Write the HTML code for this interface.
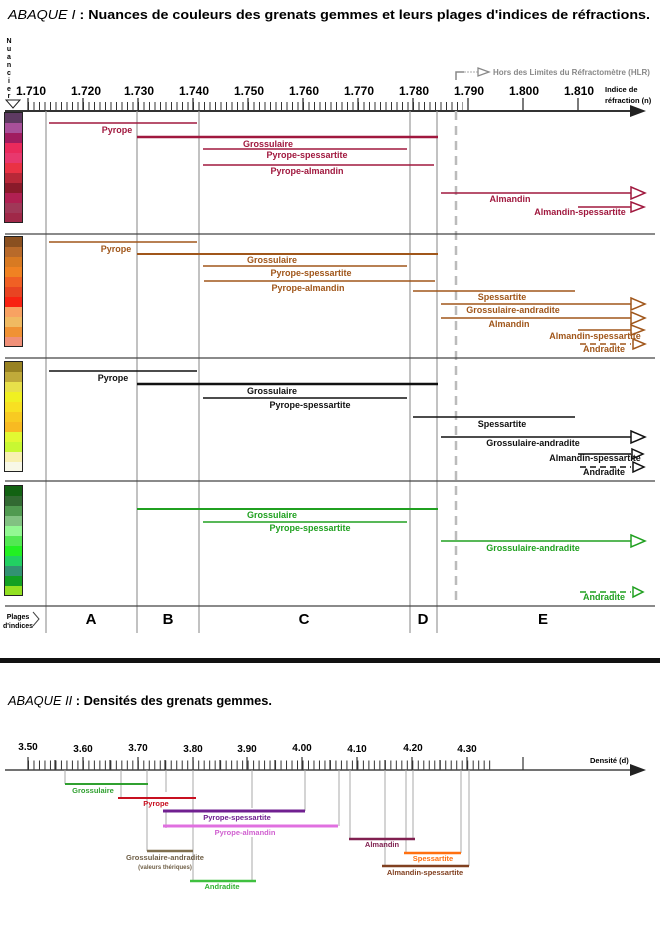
<!DOCTYPE html>
<html><head><meta charset="utf-8"><style>
html,body{margin:0;padding:0;background:#fff;}
svg{display:block;font-family:"Liberation Sans","DejaVu Sans",sans-serif;}
.l{font-size:9px;font-weight:bold;}
.t{font-size:12px;font-weight:bold;}
</style></head><body>
<svg width="660" height="932" viewBox="0 0 660 932" xmlns="http://www.w3.org/2000/svg">
<text x="8" y="19" font-size="13" font-weight="bold" textLength="642" lengthAdjust="spacingAndGlyphs"><tspan font-style="italic" font-weight="normal">ABAQUE I</tspan> : Nuances de couleurs des grenats gemmes et leurs plages d'indices de réfractions.</text>
<g font-size="7" font-weight="bold" text-anchor="middle">
<text x="9" y="43">N</text><text x="9" y="51">u</text><text x="9" y="59">a</text><text x="9" y="67">n</text><text x="9" y="75">c</text><text x="9" y="83">i</text><text x="9" y="91">e</text><text x="9" y="98">r</text></g>
<path d="M6,100 L20,100 L13,108 Z" fill="#fff" stroke="#222" stroke-width="1"/>
<line x1="5" y1="111" x2="632" y2="111" stroke="#333" stroke-width="2"/>
<path d="M630,105 L646,111 L630,117 Z" fill="#222"/>
<line x1="28" y1="106.5" x2="463" y2="106.5" stroke="#333" stroke-width="9" stroke-dasharray="1 4.5"/>
<g stroke="#333" stroke-width="1.3">
<line x1="28" y1="98" x2="28" y2="111"/><line x1="83" y1="98" x2="83" y2="111"/><line x1="138" y1="98" x2="138" y2="111"/><line x1="193" y1="98" x2="193" y2="111"/><line x1="248" y1="98" x2="248" y2="111"/><line x1="303" y1="98" x2="303" y2="111"/><line x1="358" y1="98" x2="358" y2="111"/><line x1="413" y1="98" x2="413" y2="111"/><line x1="468" y1="98" x2="468" y2="111"/><line x1="523" y1="98" x2="523" y2="111"/><line x1="578" y1="98" x2="578" y2="111"/></g>
<g class="t" text-anchor="middle">
<text x="31" y="95">1.710</text><text x="86" y="95">1.720</text><text x="139" y="95">1.730</text><text x="194" y="95">1.740</text><text x="249" y="95">1.750</text><text x="304" y="95">1.760</text><text x="359" y="95">1.770</text><text x="414" y="95">1.780</text><text x="469" y="95">1.790</text><text x="524" y="95">1.800</text><text x="579" y="95">1.810</text></g>
<text x="605" y="92" font-size="7.5" font-weight="bold">Indice de</text>
<text x="605" y="103" font-size="7.5" font-weight="bold">réfraction (n)</text>
<path d="M456,80 L456,72 L464,72" fill="none" stroke="#888" stroke-width="1.5"/>
<line x1="464" y1="72" x2="478" y2="72" stroke="#aaa" stroke-width="1" stroke-dasharray="2 1"/>
<path d="M478,68 L489,72 L478,76 Z" fill="#fff" stroke="#888" stroke-width="1.3"/>
<text x="493" y="75" font-size="8" font-weight="bold" fill="#888">Hors des Limites du Réfractomètre (HLR)</text>
<g stroke="#999" stroke-width="1.2">
<line x1="46" y1="111" x2="46" y2="633"/><line x1="137" y1="111" x2="137" y2="633"/><line x1="199" y1="111" x2="199" y2="633"/><line x1="410" y1="111" x2="410" y2="633"/><line x1="437" y1="111" x2="437" y2="633"/></g>
<line x1="456" y1="111" x2="456" y2="606" stroke="#bbb" stroke-width="2.5" stroke-dasharray="9 6"/>
<g stroke="#444" stroke-width="1.2">
<line x1="5" y1="234" x2="655" y2="234"/><line x1="5" y1="358" x2="655" y2="358"/><line x1="5" y1="481" x2="655" y2="481"/><line x1="5" y1="606" x2="655" y2="606"/></g>
<g stroke="none">
<rect x="5" y="113" width="17" height="10" fill="#5e3a62"/><rect x="5" y="123" width="17" height="10" fill="#a8509a"/><rect x="5" y="133" width="17" height="10" fill="#a01c60"/><rect x="5" y="143" width="17" height="10" fill="#ea2a5c"/><rect x="5" y="153" width="17" height="10" fill="#e8386e"/><rect x="5" y="163" width="17" height="10" fill="#ea3244"/><rect x="5" y="173" width="17" height="10" fill="#b82838"/><rect x="5" y="183" width="17" height="10" fill="#8a1a2a"/><rect x="5" y="193" width="17" height="10" fill="#b02052"/><rect x="5" y="203" width="17" height="10" fill="#a03858"/><rect x="5" y="213" width="17" height="9" fill="#a02848"/>
<rect x="5" y="237" width="17" height="10" fill="#8a5020"/><rect x="5" y="247" width="17" height="10" fill="#b86a2a"/><rect x="5" y="257" width="17" height="10" fill="#d87a22"/><rect x="5" y="267" width="17" height="10" fill="#f08222"/><rect x="5" y="277" width="17" height="10" fill="#f06024"/><rect x="5" y="287" width="17" height="10" fill="#e84422"/><rect x="5" y="297" width="17" height="10" fill="#f82212"/><rect x="5" y="307" width="17" height="10" fill="#f8a262"/><rect x="5" y="317" width="17" height="10" fill="#f0ba62"/><rect x="5" y="327" width="17" height="10" fill="#f09234"/><rect x="5" y="337" width="17" height="9" fill="#f09078"/>
<rect x="5" y="362" width="17" height="10" fill="#988222"/><rect x="5" y="372" width="17" height="10" fill="#c0aa3a"/><rect x="5" y="382" width="17" height="10" fill="#e8e04a"/><rect x="5" y="392" width="17" height="10" fill="#f0f022"/><rect x="5" y="402" width="17" height="10" fill="#f8e022"/><rect x="5" y="412" width="17" height="10" fill="#f8ca22"/><rect x="5" y="422" width="17" height="10" fill="#f8ba22"/><rect x="5" y="432" width="17" height="10" fill="#e2f832"/><rect x="5" y="442" width="17" height="10" fill="#c8f832"/><rect x="5" y="452" width="17" height="10" fill="#f8f0b2"/><rect x="5" y="462" width="17" height="9" fill="#f8f8e8"/>
<rect x="5" y="486" width="17" height="10" fill="#126212"/><rect x="5" y="496" width="17" height="10" fill="#326a32"/><rect x="5" y="506" width="17" height="10" fill="#509a50"/><rect x="5" y="516" width="17" height="10" fill="#82c282"/><rect x="5" y="526" width="17" height="10" fill="#92f892"/><rect x="5" y="536" width="17" height="10" fill="#52e852"/><rect x="5" y="546" width="17" height="10" fill="#22f022"/><rect x="5" y="556" width="17" height="10" fill="#22d062"/><rect x="5" y="566" width="17" height="10" fill="#329272"/><rect x="5" y="576" width="17" height="10" fill="#12a022"/><rect x="5" y="586" width="17" height="9" fill="#92e022"/></g>
<g fill="none" stroke="#222" stroke-width="1"><rect x="4.5" y="112.5" width="18" height="110"/><rect x="4.5" y="236.5" width="18" height="110"/><rect x="4.5" y="361.5" width="18" height="110"/><rect x="4.5" y="485.5" width="18" height="110"/></g>

<g stroke="#a0183e" fill="#fff">
<line x1="49" y1="123" x2="197" y2="123" stroke-width="1.5"/>
<line x1="137" y1="137" x2="438" y2="137" stroke-width="2.5"/>
<line x1="203" y1="149" x2="407" y2="149" stroke-width="1.5"/>
<line x1="203" y1="165" x2="434" y2="165" stroke-width="1.5"/>
<line x1="441" y1="193" x2="631" y2="193" stroke-width="1.5"/>
<line x1="578" y1="207" x2="631" y2="207" stroke-width="1.5"/>
<path d="M631,187 L645,193 L631,199 Z" stroke-width="1.5"/>
<path d="M631,202 L644,207 L631,212 Z" stroke-width="1.5"/>
</g>
<g class="l" fill="#a0183e" text-anchor="middle">
<text x="117" y="133">Pyrope</text><text x="268" y="147">Grossulaire</text><text x="307" y="158">Pyrope-spessartite</text><text x="307" y="174">Pyrope-almandin</text><text x="510" y="202">Almandin</text><text x="580" y="215">Almandin-spessartite</text></g>

<g stroke="#a0561a" fill="#fff">
<line x1="49" y1="242" x2="197" y2="242" stroke-width="1.5"/>
<line x1="137" y1="254" x2="438" y2="254" stroke-width="2"/>
<line x1="203" y1="266" x2="407" y2="266" stroke-width="1.5"/>
<line x1="204" y1="281" x2="435" y2="281" stroke-width="1.5"/>
<line x1="413" y1="291" x2="575" y2="291" stroke-width="1.5"/>
<line x1="441" y1="304" x2="631" y2="304" stroke-width="1.5"/>
<line x1="441" y1="318" x2="631" y2="318" stroke-width="1.5"/>
<line x1="578" y1="330" x2="631" y2="330" stroke-width="1.5"/>
<line x1="580" y1="344" x2="631" y2="344" stroke-width="1.5" stroke-dasharray="6 4"/>
<path d="M631,298 L645,304 L631,310 Z" stroke-width="1.5"/>
<path d="M631,312 L645,318 L631,324 Z" stroke-width="1.5"/>
<path d="M631,325 L644,330 L631,335 Z" stroke-width="1.5"/>
<path d="M633,339 L645,344 L633,349 Z" stroke-width="1.5"/>
</g>
<g class="l" fill="#a0561a" text-anchor="middle">
<text x="116" y="252">Pyrope</text><text x="272" y="263">Grossulaire</text><text x="311" y="276">Pyrope-spessartite</text><text x="308" y="291">Pyrope-almandin</text><text x="502" y="300">Spessartite</text><text x="513" y="313">Grossulaire-andradite</text><text x="509" y="327">Almandin</text><text x="595" y="339">Almandin-spessartite</text><text x="604" y="352">Andradite</text></g>

<g stroke="#111" fill="#fff">
<line x1="49" y1="371" x2="197" y2="371" stroke-width="1.5"/>
<line x1="137" y1="384" x2="438" y2="384" stroke-width="2.5"/>
<line x1="203" y1="398" x2="407" y2="398" stroke-width="1.5"/>
<line x1="413" y1="417" x2="575" y2="417" stroke-width="1.5"/>
<line x1="441" y1="437" x2="631" y2="437" stroke-width="1.5"/>
<line x1="578" y1="454" x2="631" y2="454" stroke-width="1.5"/>
<line x1="580" y1="467" x2="631" y2="467" stroke-width="1.5" stroke-dasharray="6 4"/>
<path d="M631,431 L645,437 L631,443 Z" stroke-width="1.5"/>
<path d="M632,449 L643,454 L632,459 Z" stroke-width="1.5"/>
<path d="M633,462 L644,467 L633,472 Z" stroke-width="1.5"/>
</g>
<g class="l" fill="#111" text-anchor="middle">
<text x="113" y="381">Pyrope</text><text x="272" y="394">Grossulaire</text><text x="310" y="408">Pyrope-spessartite</text><text x="502" y="427">Spessartite</text><text x="533" y="446">Grossulaire-andradite</text><text x="595" y="461">Almandin-spessartite</text><text x="604" y="475">Andradite</text></g>

<g stroke="#20a020" fill="#fff">
<line x1="137" y1="509" x2="438" y2="509" stroke-width="2"/>
<line x1="203" y1="522" x2="407" y2="522" stroke-width="1.5"/>
<line x1="441" y1="541" x2="631" y2="541" stroke-width="1.5"/>
<line x1="580" y1="592" x2="631" y2="592" stroke-width="1.5" stroke-dasharray="6 4"/>
<path d="M631,535 L645,541 L631,547 Z" stroke-width="1.5"/>
<path d="M633,587 L643,592 L633,597 Z" stroke-width="1.5"/>
</g>
<g class="l" fill="#20a020" text-anchor="middle">
<text x="272" y="518">Grossulaire</text><text x="310" y="531">Pyrope-spessartite</text><text x="533" y="551">Grossulaire-andradite</text><text x="604" y="600">Andradite</text></g>

<text x="18" y="619" font-size="7" font-weight="bold" text-anchor="middle">Plages</text>
<text x="18" y="628" font-size="7" font-weight="bold" text-anchor="middle">d'indices</text>
<path d="M33,612 L39,619 L33,626" fill="#fff" stroke="#444" stroke-width="1"/>
<g font-size="15" font-weight="bold" text-anchor="middle">
<text x="91" y="624">A</text><text x="168" y="624">B</text><text x="304" y="624">C</text><text x="423" y="624">D</text><text x="543" y="624">E</text></g>

<rect x="0" y="658" width="660" height="5" fill="#111"/>

<text x="8" y="705" font-size="13" font-weight="bold" textLength="264" lengthAdjust="spacingAndGlyphs"><tspan font-style="italic" font-weight="normal">ABAQUE II</tspan> : Densités des grenats gemmes.</text>

<line x1="5" y1="770" x2="633" y2="770" stroke="#444" stroke-width="1.5"/>
<path d="M630,764 L646,770 L630,776 Z" fill="#222"/>
<line x1="28" y1="765" x2="491" y2="765" stroke="#333" stroke-width="9" stroke-dasharray="1 4.49"/>
<g stroke="#333" stroke-width="1.2">
<line x1="28" y1="757" x2="28" y2="770"/><line x1="83" y1="757" x2="83" y2="770"/><line x1="138" y1="757" x2="138" y2="770"/><line x1="193" y1="757" x2="193" y2="770"/><line x1="247" y1="757" x2="247" y2="770"/><line x1="302" y1="757" x2="302" y2="770"/><line x1="357" y1="757" x2="357" y2="770"/><line x1="412" y1="757" x2="412" y2="770"/><line x1="467" y1="757" x2="467" y2="770"/><line x1="523" y1="757" x2="523" y2="770"/>
<line x1="55" y1="760" x2="55" y2="770"/><line x1="110" y1="760" x2="110" y2="770"/><line x1="165" y1="760" x2="165" y2="770"/><line x1="220" y1="760" x2="220" y2="770"/><line x1="275" y1="760" x2="275" y2="770"/><line x1="330" y1="760" x2="330" y2="770"/><line x1="385" y1="760" x2="385" y2="770"/><line x1="440" y1="760" x2="440" y2="770"/></g>
<g font-size="10" font-weight="bold" text-anchor="middle">
<text x="28" y="750">3.50</text><text x="83" y="752">3.60</text><text x="138" y="751">3.70</text><text x="193" y="752">3.80</text><text x="247" y="752">3.90</text><text x="302" y="751">4.00</text><text x="357" y="752">4.10</text><text x="413" y="751">4.20</text><text x="467" y="752">4.30</text></g>
<text x="590" y="763" font-size="7.5" font-weight="bold">Densité (d)</text>

<g stroke="#aaa" stroke-width="1">
<line x1="65" y1="770" x2="65" y2="784"/><line x1="121" y1="770" x2="121" y2="798"/><line x1="147" y1="770" x2="147" y2="851"/><line x1="166" y1="770" x2="166" y2="792"/><line x1="166" y1="811" x2="166" y2="828"/><line x1="193" y1="770" x2="193" y2="881"/><line x1="252" y1="770" x2="252" y2="808"/><line x1="252" y1="837" x2="252" y2="881"/><line x1="305" y1="770" x2="305" y2="811"/><line x1="339" y1="770" x2="339" y2="826"/><line x1="350" y1="770" x2="350" y2="839"/><line x1="385" y1="770" x2="385" y2="866"/><line x1="406" y1="770" x2="406" y2="853"/><line x1="413" y1="770" x2="413" y2="839"/><line x1="461" y1="770" x2="461" y2="853"/><line x1="469" y1="770" x2="469" y2="866"/></g>

<line x1="65" y1="784" x2="148" y2="784" stroke="#30a030" stroke-width="2"/>
<line x1="118" y1="798" x2="196" y2="798" stroke="#c81020" stroke-width="2"/>
<line x1="163" y1="811" x2="305" y2="811" stroke="#702090" stroke-width="3"/>
<line x1="163" y1="826" x2="338" y2="826" stroke="#e070e0" stroke-width="3"/>
<line x1="147" y1="851" x2="193" y2="851" stroke="#807050" stroke-width="2.5"/>
<line x1="190" y1="881" x2="256" y2="881" stroke="#40c040" stroke-width="2.5"/>
<line x1="349" y1="839" x2="415" y2="839" stroke="#802050" stroke-width="2.5"/>
<line x1="404" y1="853" x2="461" y2="853" stroke="#ff7010" stroke-width="2.5"/>
<line x1="382" y1="866" x2="469" y2="866" stroke="#804020" stroke-width="2.5"/>
<g font-size="7.5" font-weight="bold" text-anchor="middle">
<text x="93" y="793" fill="#30a030">Grossulaire</text>
<text x="156" y="806" fill="#c81020">Pyrope</text>
<text x="237" y="820" fill="#702090">Pyrope-spessartite</text>
<text x="245" y="835" fill="#d060d0">Pyrope-almandin</text>
<text x="165" y="860" fill="#706048">Grossulaire-andradite</text>
<text x="165" y="869" fill="#706048" font-size="6">(valeurs thériques)</text>
<text x="222" y="889" fill="#30b030">Andradite</text>
<text x="382" y="847" fill="#802050">Almandin</text>
<text x="433" y="861" fill="#ff7010">Spessartite</text>
<text x="425" y="875" fill="#804020">Almandin-spessartite</text></g>
</svg>
</body></html>
